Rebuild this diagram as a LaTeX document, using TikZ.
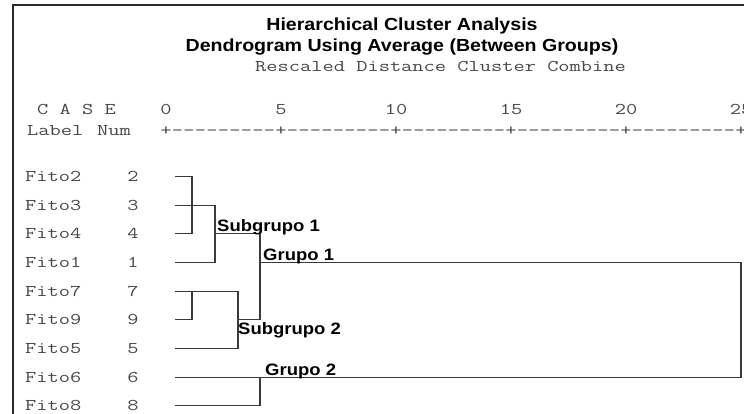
\documentclass[tikz,border=0pt]{standalone}
\usepackage{fontspec}
\newfontfamily\headfont{Liberation Sans}
\definecolor{printgray}{HTML}{484848}
\definecolor{linegray}{HTML}{3A3A3A}
\definecolor{framegray}{HTML}{2A2A2A}
% SPSS-style typefaces: a slightly widened typewriter face and a bold sans
\newcommand\spssmono[1]{\scalebox{1.33}[1]{\fontsize{16.4}{16.4}\selectfont\ttfamily #1}}
\newcommand\spsshead[1]{\scalebox{1.12}[1]{\fontsize{17.5}{17.5}\selectfont\headfont\bfseries #1}}
\newcommand\spsslabel[1]{\scalebox{1.12}[1]{\fontsize{16.5}{16.5}\selectfont\headfont\bfseries #1}}
\tikzset{
  mono/.style={inner sep=0pt, text=printgray, font=\ttfamily},
  headtxt/.style={inner sep=0pt, text=black, anchor=base},
  grouptxt/.style={inner sep=0pt, text=black, anchor=base west},
  dend/.style={draw=linegray, line width=1.1pt},
  frameline/.style={draw=framegray, line width=2pt},
}
\begin{document}
\begin{tikzpicture}[x={(1pt,0)}, y={(0,-1pt)}]
\useasboundingbox[fill=white] (0,0) rectangle (744,414);

% outer frame (top and left)
\draw[frameline] (13,414) -- (13,5) -- (744,5);

% titles
\node[headtxt] (title1) at (402,31) {\spsshead{Hierarchical Cluster Analysis}};
\node[headtxt] (title2) at (402,52) {\spsshead{Dendrogram Using Average (Between Groups)}};
\node[mono, anchor=base west] (rescaled) at (255,72) {\spssmono{Rescaled Distance Cluster Combine}};

% column headings
\node[mono, anchor=base west] (case) at (37,115) {\spssmono{C A S E}};
\node[mono, anchor=base west] (label) at (27,136) {\spssmono{Label}};
\node[mono, anchor=base west] (num) at (97,136) {\spssmono{Num}};

% distance scale
\foreach \v [count=\k from 0] in {0,5,10,15,20,25}
  \node[mono, anchor=base] (scale\k) at ({166+115*\k},115) {\spssmono{\v}};
\foreach \c in {0,...,50}{
  \pgfmathtruncatemacro\r{mod(\c,10)}
  \ifnum\r=0
    \node[mono, anchor=base] (tick\c) at ({166+11.5*\c},136) {\spssmono{+}};
  \else
    \node[mono, anchor=base] (tick\c) at ({166+11.5*\c},136) {\spssmono{-}};
  \fi
}

% cases
\foreach \nm/\n/\y in {2/2/176.5, 3/3/205.2, 4/4/233.8, 1/1/262.5, 7/7/291.1,
                       9/9/319.8, 5/5/348.4, 6/6/377.1, 8/8/405.7}{
  \node[mono, anchor=base west] (name\n) at (25,\y+5) {\spssmono{Fito\nm}};
  \node[mono, anchor=base] (num\n) at (133,\y+5) {\spssmono{\n}};
  \coordinate (s\n) at (175,\y);
}

% merge points
\coordinate (a1) at (192,176.5);
\coordinate (a2) at (192,233.8);
\coordinate (b1) at (215,205.2);
\coordinate (b2) at (215,262.5);
\coordinate (sg1) at (215,233.8);
\coordinate (c1) at (260,233.8);
\coordinate (c2) at (260,319.8);
\coordinate (e1) at (192,291.1);
\coordinate (e2) at (192,319.8);
\coordinate (d1) at (238,291.1);
\coordinate (d2) at (238,348.4);
\coordinate (sg2) at (238,319.8);
\coordinate (g1) at (260,262.5);
\coordinate (f1) at (741,262.5);
\coordinate (f2) at (741,377.1);
\coordinate (h1) at (260,377.1);
\coordinate (h2) at (260,405.7);

% dendrogram
\draw[dend] (s2) -- (a1) -- (a2) -- (s4);
\draw[dend] (s3) -- (b1) -- (b2) -- (s1);
\draw[dend] (sg1) -- (c1) -- (c2) -- (sg2);
\draw[dend] (s9) -- (e2) -- (e1);
\draw[dend] (s7) -- (d1) -- (d2) -- (s5);
\draw[dend] (g1) -- (f1) -- (f2) -- (s6);
\draw[dend] (h1) -- (h2) -- (s8);

% group labels
\node[grouptxt] (sub1) at (217,232) {\spsslabel{Subgrupo 1}};
\node[grouptxt] (grp1) at (263,260.5) {\spsslabel{Grupo 1}};
\node[grouptxt] (sub2) at (238,334) {\spsslabel{Subgrupo 2}};
\node[grouptxt] (grp2) at (265,375.5) {\spsslabel{Grupo 2}};
\end{tikzpicture}
\end{document}
